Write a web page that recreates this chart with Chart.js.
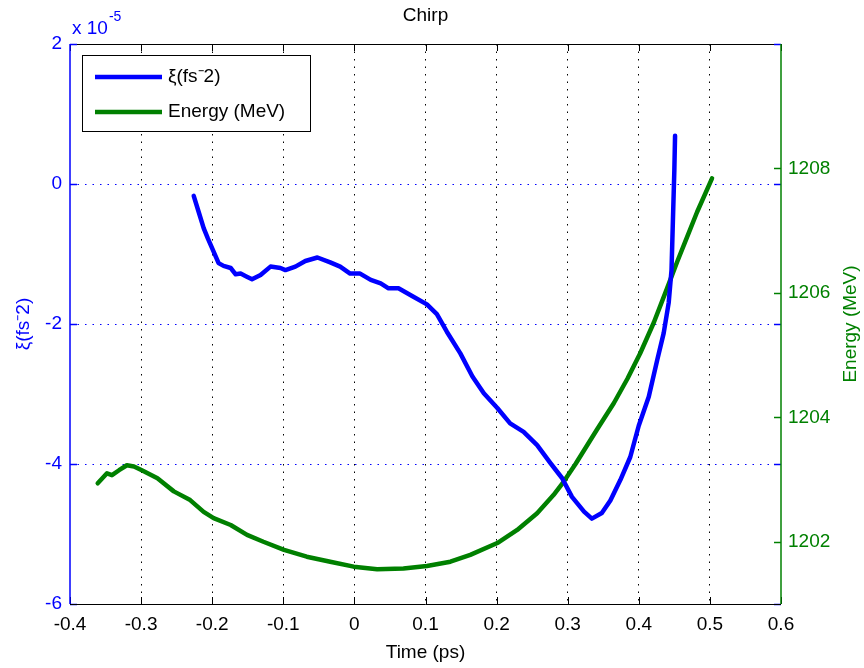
<!DOCTYPE html>
<html><head><meta charset="utf-8">
<script src="https://cdn.jsdelivr.net/npm/chart.js@4/dist/chart.umd.min.js"></script>
<style>html,body{margin:0;padding:0;background:#fff;overflow:hidden}</style>
</head><body><canvas id="c" width="864" height="668"></canvas>
<script>
const chartTitle = 'Chirp';
const xAxisTitle = 'Time (ps)';
const leftAxisTitle = 'ξ(fs⁻2)';
const rightAxisTitle = 'Energy (MeV)';
const leftExponentBase = 'x 10';
const leftExponent = '-5';
const seriesLabels = ['ξ(fs⁻2)', 'Energy (MeV)'];

const xTickValues = [-0.4, -0.3, -0.2, -0.1, 0, 0.1, 0.2, 0.3, 0.4, 0.5, 0.6];
const xTickLabels = ['-0.4', '-0.3', '-0.2', '-0.1', '0', '0.1', '0.2', '0.3', '0.4', '0.5', '0.6'];
const leftTickValues = [-6, -4, -2, 0, 2];
const leftTickLabels = ['-6', '-4', '-2', '0', '2'];
const rightTickValues = [1202, 1204, 1206, 1208];
const rightTickLabels = ['1202', '1204', '1206', '1208'];

// chirp xi, in units of 1e-5 fs^-2
const chirpTime = [-0.226, -0.219, -0.212, -0.206, -0.200, -0.191, -0.184, -0.174, -0.167, -0.160, -0.152, -0.144, -0.132, -0.118, -0.104, -0.097, -0.083, -0.069, -0.052, -0.034, -0.020, -0.006, 0.008, 0.023, 0.037, 0.048, 0.062, 0.083, 0.102, 0.116, 0.130, 0.149, 0.166, 0.182, 0.201, 0.219, 0.238, 0.257, 0.276, 0.292, 0.306, 0.323, 0.334, 0.348, 0.360, 0.374, 0.388, 0.400, 0.414, 0.426, 0.435, 0.442, 0.446, 0.448, 0.450, 0.451];
const chirpValue = [-0.17, -0.40, -0.63, -0.78, -0.92, -1.13, -1.17, -1.20, -1.29, -1.28, -1.32, -1.36, -1.30, -1.18, -1.20, -1.23, -1.18, -1.10, -1.05, -1.12, -1.18, -1.28, -1.28, -1.37, -1.42, -1.49, -1.49, -1.61, -1.72, -1.86, -2.11, -2.42, -2.75, -2.99, -3.20, -3.42, -3.54, -3.73, -3.99, -4.20, -4.47, -4.68, -4.78, -4.70, -4.52, -4.23, -3.90, -3.45, -3.04, -2.51, -2.13, -1.70, -1.23, -0.51, 0.20, 0.69];

// energy, MeV
const energyTime = [-0.361, -0.348, -0.341, -0.331, -0.320, -0.310, -0.299, -0.277, -0.254, -0.231, -0.212, -0.198, -0.174, -0.151, -0.128, -0.099, -0.067, -0.034, -0.001, 0.032, 0.069, 0.102, 0.135, 0.163, 0.201, 0.229, 0.257, 0.280, 0.294, 0.311, 0.341, 0.365, 0.384, 0.402, 0.421, 0.440, 0.454, 0.468, 0.482, 0.503];
const energyValue = [1202.94, 1203.10, 1203.07, 1203.15, 1203.23, 1203.21, 1203.15, 1203.02, 1202.81, 1202.67, 1202.48, 1202.38, 1202.27, 1202.11, 1202.00, 1201.87, 1201.76, 1201.68, 1201.60, 1201.56, 1201.57, 1201.61, 1201.68, 1201.79, 1201.98, 1202.19, 1202.46, 1202.75, 1202.96, 1203.25, 1203.80, 1204.23, 1204.62, 1205.03, 1205.52, 1206.08, 1206.50, 1206.90, 1207.30, 1207.84];

const BLUE = '#0000ff';
const GREEN = '#008000';
const FONT_FAMILY = '"Liberation Sans Narrow", "Liberation Sans", Arial, sans-serif';
const FS = 19;

function pts(xs, ys) { return xs.map((x, i) => ({x: x, y: ys[i]})); }

const decor = {
  id: 'decor',
  beforeDraw(chart) {
    const c = chart.ctx;
    c.save(); c.fillStyle = '#fff'; c.fillRect(0, 0, chart.width, chart.height); c.restore();
  },
  afterDraw(chart) {
    const c = chart.ctx;
    const a = chart.chartArea;
    const sx = chart.scales.x, sy = chart.scales.y, sy2 = chart.scales.y2;
    const TL = 7;
    c.save();
    c.lineWidth = 1;
    c.strokeStyle = '#000';
    c.beginPath(); c.moveTo(a.left, a.top + 0.5); c.lineTo(a.right, a.top + 0.5); c.stroke();
    xTickValues.forEach(v => {
      const px = Math.round(sx.getPixelForValue(v)) + 0.5;
      c.beginPath(); c.moveTo(px, a.bottom); c.lineTo(px, a.bottom - TL); c.stroke();
      c.beginPath(); c.moveTo(px, a.top); c.lineTo(px, a.top + TL); c.stroke();
    });
    c.strokeStyle = BLUE; c.lineWidth = 1.5;
    leftTickValues.forEach(v => {
      const py = Math.round(sy.getPixelForValue(v)) + 0.5;
      c.beginPath(); c.moveTo(a.left, py); c.lineTo(a.left + TL, py); c.stroke();
      c.beginPath(); c.moveTo(a.right, py); c.lineTo(a.right - TL, py); c.stroke();
    });
    c.strokeStyle = GREEN;
    rightTickValues.forEach(v => {
      const py = Math.round(sy2.getPixelForValue(v)) + 0.5;
      c.beginPath(); c.moveTo(a.right, py); c.lineTo(a.right - TL, py); c.stroke();
    });
    c.strokeStyle = BLUE;
    c.beginPath(); c.moveTo(a.left, a.top); c.lineTo(a.left, a.bottom); c.stroke();
    c.strokeStyle = GREEN;
    c.beginPath(); c.moveTo(a.right, a.top); c.lineTo(a.right, a.bottom); c.stroke();
    c.strokeStyle = '#000'; c.lineWidth = 1;
    c.beginPath(); c.moveTo(a.left, a.bottom + 0.5); c.lineTo(a.right, a.bottom + 0.5); c.stroke();

    c.fillStyle = '#000';
    c.font = FS + 'px ' + FONT_FAMILY;
    c.textAlign = 'center'; c.textBaseline = 'middle';
    c.fillText(chartTitle, (a.left + a.right) / 2, 16);
    c.fillStyle = BLUE;
    c.textAlign = 'left'; c.textBaseline = 'alphabetic';
    c.fillText(leftExponentBase, 72, 34);
    const w = c.measureText(leftExponentBase).width;
    c.font = '14px ' + FONT_FAMILY;
    c.fillText(leftExponent, 72 + w + 1, 21);
    c.font = FS + 'px ' + FONT_FAMILY;
    c.fillStyle = GREEN;
    c.save();
    c.translate(851, (a.top + a.bottom) / 2);
    c.rotate(-Math.PI / 2);
    c.textAlign = 'center'; c.textBaseline = 'middle';
    c.fillText(rightAxisTitle, 0, 0);
    c.restore();

    const lx = 82, ly = 55, lw = 228, lh = 76;
    c.fillStyle = '#fff';
    c.fillRect(lx, ly, lw, lh);
    c.strokeStyle = '#000'; c.lineWidth = 1;
    c.strokeRect(lx + 0.5, ly + 0.5, lw, lh);
    const rows = [77, 112];
    chart.data.datasets.forEach((ds, i) => {
      c.strokeStyle = ds.borderColor; c.lineWidth = 4.5;
      c.beginPath(); c.moveTo(95, rows[i]); c.lineTo(162, rows[i]); c.stroke();
      c.fillStyle = '#000';
      c.font = FS + 'px ' + FONT_FAMILY;
      c.textAlign = 'left'; c.textBaseline = 'middle';
      c.fillText(ds.label, 168, rows[i]);
    });
    c.restore();
  }
};

new Chart(document.getElementById('c'), {
  type: 'line',
  data: {
    datasets: [
      {label: seriesLabels[0], data: pts(chirpTime, chirpValue), yAxisID: 'y', borderColor: BLUE, backgroundColor: BLUE, borderWidth: 4.5, pointRadius: 0, tension: 0, fill: false, borderJoinStyle: 'round', borderCapStyle: 'round'},
      {label: seriesLabels[1], data: pts(energyTime, energyValue), yAxisID: 'y2', borderColor: GREEN, backgroundColor: GREEN, borderWidth: 4.5, pointRadius: 0, tension: 0, fill: false, borderJoinStyle: 'round', borderCapStyle: 'round'}
    ]
  },
  options: {
    responsive: false,
    animation: false,
    devicePixelRatio: 1,
    layout: {padding: {top: 44, left: 0, right: 0, bottom: 0}},
    plugins: {legend: {display: false}, title: {display: false}, tooltip: {enabled: false}},
    scales: {
      x: {
        type: 'linear', position: 'bottom', min: -0.4, max: 0.6,
        afterBuildTicks: s => { s.ticks = xTickValues.map(v => ({value: v})); },
        afterFit: s => { s.height = 64; },
        ticks: {autoSkip: false, maxRotation: 0, padding: 9, color: '#000', font: {family: FONT_FAMILY, size: FS},
          callback: (v, i) => xTickLabels[i]},
        grid: {drawTicks: false, lineWidth: 1,
          color: ctx => (ctx.tick && (ctx.tick.value === -0.4 || ctx.tick.value === 0.6)) ? 'rgba(0,0,0,0)' : '#000'},
        border: {display: false, dash: [1.5, 6]},
        title: {display: true, text: xAxisTitle, color: '#000', font: {family: FONT_FAMILY, size: FS}, padding: {top: 4, bottom: 4}}
      },
      y: {
        type: 'linear', position: 'left', min: -6, max: 2,
        afterBuildTicks: s => { s.ticks = leftTickValues.map(v => ({value: v})); },
        afterFit: s => { s.width = 70; },
        ticks: {padding: 8, color: BLUE, font: {family: FONT_FAMILY, size: FS},
          callback: (v, i) => leftTickLabels[i]},
        grid: {drawTicks: false, lineWidth: 1,
          color: ctx => (ctx.tick && (ctx.tick.value === -6 || ctx.tick.value === 2)) ? 'rgba(0,0,0,0)' : BLUE},
        border: {display: false, dash: [1.5, 6]},
        title: {display: true, text: leftAxisTitle, color: BLUE, font: {family: FONT_FAMILY, size: FS}, padding: {top: 12, bottom: 0}}
      },
      y2: {
        type: 'linear', position: 'right', min: 1201, max: 1210,
        afterBuildTicks: s => { s.ticks = rightTickValues.map(v => ({value: v})); },
        afterFit: s => { s.width = 83; },
        ticks: {padding: 7, color: GREEN, font: {family: FONT_FAMILY, size: FS},
          callback: (v, i) => rightTickLabels[i]},
        grid: {display: false, drawTicks: false},
        border: {display: false}
      }
    }
  },
  plugins: [decor]
});
</script>
</body></html>
